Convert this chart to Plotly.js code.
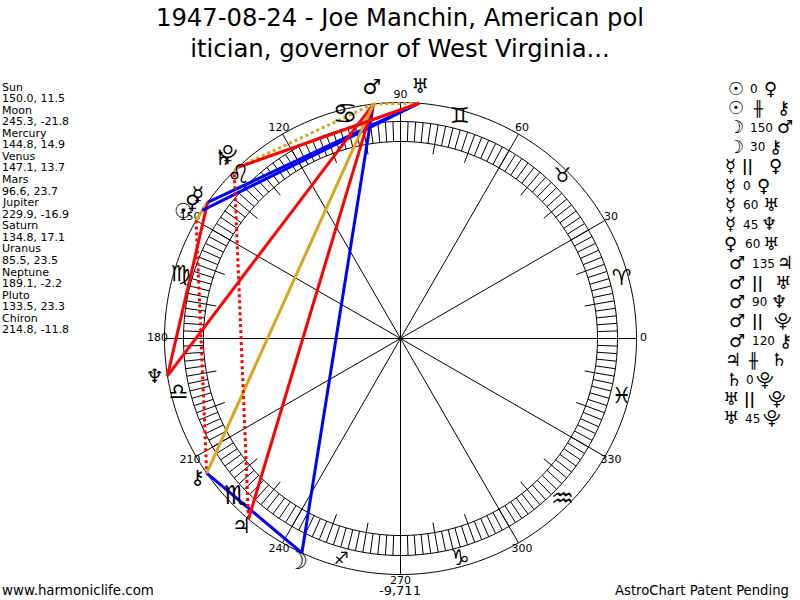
<!DOCTYPE html>
<html>
<head>
<meta charset="utf-8">
<script src="https://cdn.plot.ly/plotly-3.0.1.min.js"></script>
<style>html,body{margin:0;padding:0;background:#fff}#c{width:800px;height:600px}</style>
</head>
<body>
<div id="c"></div>
<script>
// ---- data ----
const titleLines = ["1947-08-24 - Joe Manchin, American pol", "itician, governor of West Virginia..."];
const bodies = ["Sun","Moon","Mercury","Venus","Mars","Jupiter","Saturn","Uranus","Neptune","Pluto","Chiron"];
const glyphs = ["\u2609","\u263D","\u263F","\u2640","\u2642","\u2643","\u2644","\u2645","\u2646","\u2BD3","\u26B7"];
const longitudes = [150.0,245.3,144.8,147.1,96.6,229.9,134.8,85.5,189.1,133.5,214.8];
const declinations = [11.5,-21.8,14.9,13.7,23.7,-16.9,17.1,23.5,-2.2,23.3,-11.8];
const signs = ["\u2648","\u2649","\u264A","\u264B","\u264C","\u264D","\u264E","\u264F","\u2650","\u2651","\u2652","\u2653"];
const signLongitudes = [15,45,75,104,135,164,194,224,255,285,315,345];
const degreeTicks = [0,30,60,90,120,150,180,210,240,270,300,330];
const aspectFrom = ["Sun","Sun","Moon","Moon","Mercury","Mercury","Mercury","Mercury","Venus","Mars","Mars","Mars","Mars","Mars","Jupiter","Saturn","Uranus","Uranus"];
const aspectTo = ["Venus","Chiron","Mars","Chiron","Venus","Venus","Uranus","Neptune","Uranus","Jupiter","Uranus","Neptune","Pluto","Chiron","Saturn","Pluto","Pluto","Pluto"];
const aspectKind = ["0","#","150","30","||","0","60","45","60","135","||","90","||","120","#","0","||","45"];
const footerLeft = "www.harmoniclife.com", footerMid = "-9,711", footerRight = "AstroChart Patent Pending";

// ---- styling ----
const FONT = "DejaVu Sans, Verdana, sans-serif";
const kindStyle = {
  "0":{color:"#daa520",dash:"solid"}, "120":{color:"#daa520",dash:"solid"},
  "60":{color:"#0000ff",dash:"solid"}, "30":{color:"#0000ff",dash:"solid"}, "150":{color:"#0000ff",dash:"solid"},
  "45":{color:"#ff0000",dash:"solid"}, "90":{color:"#ff0000",dash:"solid"}, "135":{color:"#ff0000",dash:"solid"},
  "||":{color:"#daa520",dash:"dot"}, "#":{color:"#ff0000",dash:"dot"}
};
const CX=400.5, CY=338.5, R=236, RMAX=261, RING_IN=197, RING_OUT=217, TICK_IN=187;
const idx = n => bodies.indexOf(n);
const signSizes = [22,20,22,28,26,22,22,26,17,22,26,22];
const glyphRadius = [251,247,248,248,251,247,252,251,249,251,247];
const glyphSizes = [21,24,20,20,21,21,20,20,20,20,20];
const wrap = g => (g==="\u2609"||g==="\u263D") ? "<b>"+g+"</b>" : g;

// ---- wheel ----
const traces = [];
function circle(r){ const t=[],q=[]; for(let a=0;a<=360;a++){t.push(a);q.push(r);} 
  traces.push({type:"scatterpolar",mode:"lines",r:q,theta:t,line:{color:"#000",width:1},hoverinfo:"skip"}); }
circle(R); circle(RING_IN); circle(RING_OUT);
const tt=[],tr=[];
for(let a=0;a<360;a+=2){ tt.push(a,a,null); tr.push(RING_IN,RING_OUT,null); }
for(let a=10;a<360;a+=10){ if(a%30){ tt.push(a,a,null); tr.push(TICK_IN,RING_IN,null);} }
degreeTicks.forEach(a=>{ tt.push(a,a,null); tr.push(0,R,null); });
traces.push({type:"scatterpolar",mode:"lines",r:tr,theta:tt,line:{color:"#000",width:1},hoverinfo:"skip",connectgaps:false});
traces.push({type:"scatterpolar",mode:"text",r:degreeTicks.map(()=>243),theta:degreeTicks,text:degreeTicks.map(String),
  textposition:"middle center",textfont:{family:FONT,size:11,color:"#000"},hoverinfo:"skip"});

// ---- aspects ----
aspectFrom.forEach((f,i)=>{
  const s=kindStyle[aspectKind[i]];
  traces.push({type:"scatterpolar",mode:"lines",
    r:[R,R],theta:[longitudes[idx(f)],longitudes[idx(aspectTo[i])]],
    line:{color:s.color,width:3,dash:s.dash},hoverinfo:"skip"});
});

// ---- glyphs ----
traces.push({type:"scatterpolar",mode:"text",r:signs.map(()=>229),theta:signLongitudes,text:signs,
  textposition:"middle center",textfont:{family:FONT,size:signSizes,color:"#000"},hoverinfo:"skip"});
traces.push({type:"scatterpolar",mode:"text",r:glyphRadius,theta:longitudes,text:glyphs.map(wrap),
  textposition:"middle center",textfont:{family:FONT,size:glyphSizes,color:"#000"},hoverinfo:"skip"});

// ---- annotations ----
const ann=[];
function put(x,y,text,opt){ ann.push(Object.assign({xref:"paper",yref:"paper",x:x/800,y:1-y/600,text:text,showarrow:false,
  xanchor:"left",yanchor:"middle",borderpad:0,font:{family:FONT,size:11,color:"#000"}},opt||{})); }
bodies.forEach((b,i)=>{
  put(1,87+i*2*11.57,b);
  put(1,87+(i*2+1)*11.57,longitudes[i].toFixed(1)+", "+declinations[i].toFixed(1));
});
put(1,590,footerLeft,{font:{family:FONT,size:13.4,color:"#000"}});
put(400,590.5,footerMid,{xanchor:"center",font:{family:FONT,size:13,color:"#000"}});
put(790,590,footerRight,{xanchor:"right",font:{family:FONT,size:13.2,color:"#000"}});

// right-hand aspect list: column positions per row
const col1 = [736,736,736,736,730,730,730,730,730,737,737,737,737,737,733,734,731,731];
const col2 = [754,758,761,757,747,747,750,750,752,763,757,759,757,763,753,750,749,752];
const col3 = [770,783,785,775,775,763,771,769,771,785,783,779,783,785,779,765,777,772];
aspectFrom.forEach((f,i)=>{
  const y=88+i*19.4, k=aspectKind[i];
  const c={xanchor:"center"};
  put(col1[i],y,wrap(glyphs[idx(f)]),Object.assign({},c,{font:{family:FONT,size:18,color:"#000"}}));
  const isSym=(k==="||"||k==="#");
  put(col2[i],y+1,isSym?(k==="#"?"<b>\u256B</b>":"<b>||</b>"):k,Object.assign({},c,{font:{family:FONT,size:isSym?15:12,color:"#000"}}));
  put(col3[i],y,wrap(glyphs[idx(aspectTo[i])]),Object.assign({},c,{font:{family:FONT,size:18,color:"#000"}}));
});

const layout={
  width:800,height:600,margin:{l:0,r:0,t:0,b:0},paper_bgcolor:"#fff",showlegend:false,
  title:{text:titleLines.join("<br>"),x:0.5,xanchor:"center",y:0.957,yanchor:"top",font:{family:FONT,size:24.3,color:"#000"}},
  polar:{
    domain:{x:[(CX-RMAX)/800,(CX+RMAX)/800],y:[(600-CY-RMAX)/600,(600-CY+RMAX)/600]},
    bgcolor:"rgba(0,0,0,0)",
    radialaxis:{range:[0,RMAX],visible:false},
    angularaxis:{direction:"counterclockwise",rotation:0,visible:false}
  },
  annotations:ann
};
Plotly.newPlot("c",traces,layout,{staticPlot:true,displayModeBar:false});
</script>
</body>
</html>
